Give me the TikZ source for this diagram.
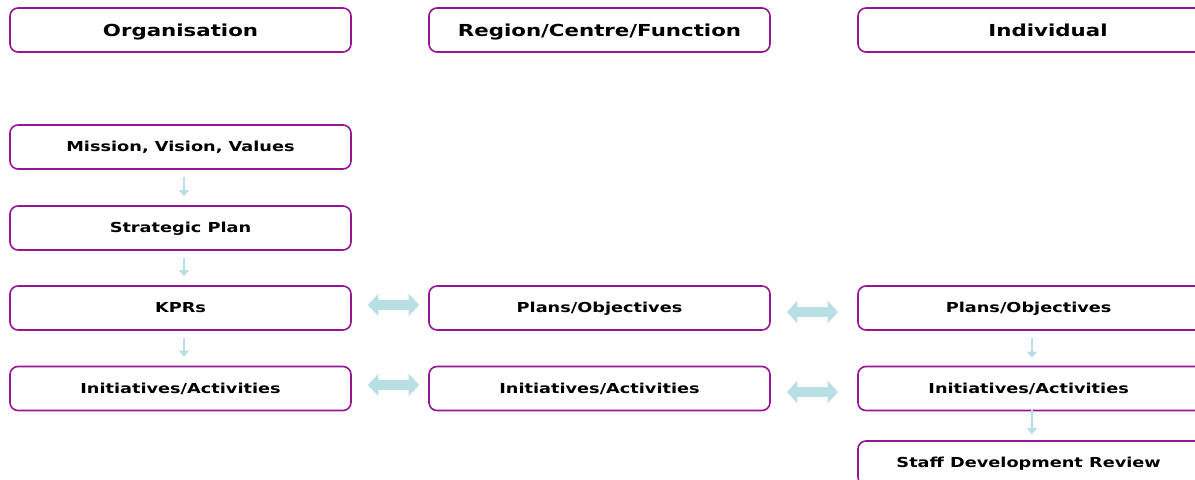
\documentclass[tikz,border=0pt]{standalone}
\usepackage{fontspec}
\setmainfont{DejaVu Sans}[FakeStretch=1.29]
\usetikzlibrary{arrows.meta,calc}
\definecolor{frame}{RGB}{150,20,150}
\definecolor{link}{RGB}{184,223,227}
\begin{document}
\begin{tikzpicture}[x=0.75pt,y=-0.75pt,
  box/.style={draw=frame,line width=1.2pt,rounded corners=6pt,fill=white,
    minimum width=255.75pt,minimum height=33pt,inner sep=0pt,
    font=\fontsize{10.3pt}{12pt}\selectfont\bfseries,
    text height=0.73em,text depth=0pt},
  head/.style={font=\fontsize{12.4pt}{14pt}\selectfont\bfseries,
    text height=1em,text depth=0pt},
  wide/.style={minimum width=270pt,xshift=7.1pt},
  down/.style={draw=link,line width=1.4pt,-{Triangle[length=4.5pt,width=7.5pt]}},
  both/.style={draw=link,line width=7.5pt,
    {Triangle[length=8pt,width=16.5pt]}-{Triangle[length=8pt,width=16.5pt]}}]
\clip (0,0) rectangle (1195,479);
\useasboundingbox (0,0) rectangle (1195,479);

% column headings
\node[box,head] (org) at (180.5,30) {Organisation};
\node[box,head] (rcf) at (599.5,30) {Region/Centre/Function};
\node[box,head,minimum width=285pt] (ind) at (1048,30) {Individual};

% organisation column
\node[box] (mvv) at (180.5,147) {Mission, Vision, Values};
\node[box] (sp)  at (180.5,228) {Strategic Plan};
\node[box] (kpr) at (180.5,308) {KPRs};
\node[box] (ia1) at (180.5,388.5) {Initiatives/Activities};

% region/centre/function column
\node[box] (po2) at (599.5,308) {Plans/Objectives};
\node[box] (ia2) at (599.5,388.5) {Initiatives/Activities};

% individual column (boxes run on past the right edge)
\node[box,wide] (po3) at (1028.5,308) {\hspace*{-14pt}Plans/Objectives};
\node[box,wide] (ia3) at (1028.5,388.5) {\hspace*{-14pt}Initiatives/Activities};
\node[box,wide] (sdr) at (1028.5,463) {\hspace*{-14pt}Staff Development Review};

% downward flow
\draw[down] ($(mvv.south)+(3.5,7)$) -- ($(sp.north)+(3.5,-9)$);
\draw[down] ($(sp.south)+(3.5,7)$) -- ($(kpr.north)+(3.5,-9)$);
\draw[down] ($(kpr.south)+(3.5,7)$) -- ($(ia1.north)+(3.5,-9)$);
\draw[down] ($(po3.south)+(-6,7)$) -- ($(ia3.north)+(-6,-8)$);
\draw[down] ($(ia3.south)+(-6,-2)$) -- ($(sdr.north)+(-6,-6)$);

% two-way links between columns
\draw[both] ($(kpr.east)+(16,-3)$) -- ($(po2.west)+(-9,-3)$);
\draw[both] ($(ia1.east)+(16,-3.5)$) -- ($(ia2.west)+(-9,-3.5)$);
\draw[both] ($(po2.east)+(16,4)$) -- ($(po3.west)+(-19,4)$);
\draw[both] ($(ia2.east)+(16,3.5)$) -- ($(ia3.west)+(-19,3.5)$);
\end{tikzpicture}
\end{document}
